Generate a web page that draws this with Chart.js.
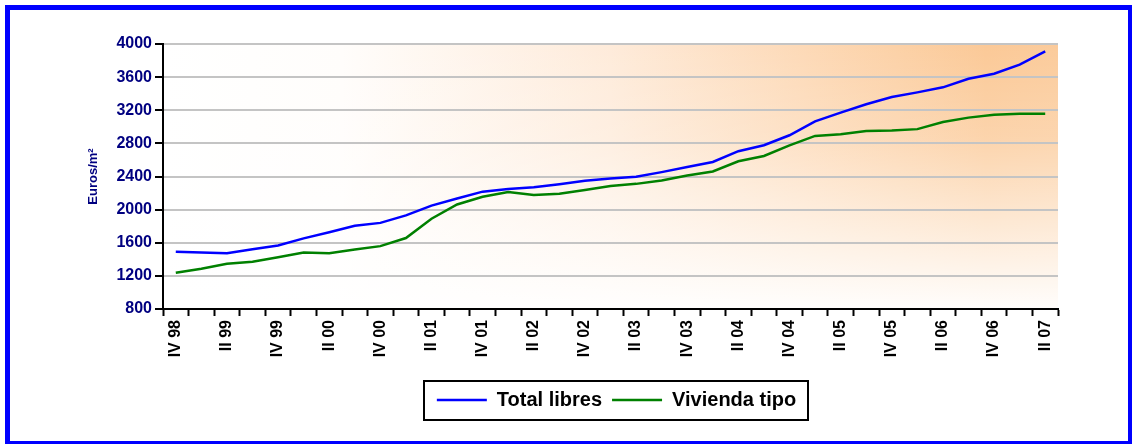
<!DOCTYPE html>
<html>
<head>
<meta charset="utf-8">
<script src="https://cdn.jsdelivr.net/npm/chart.js@4.4.0/dist/chart.umd.min.js"></script>
<style>
  html, body { margin: 0; padding: 0; background: #fff; overflow: hidden; }
  #wrap { position: relative; width: 1132px; height: 444px; }
  #frame {
    position: absolute; left: 5px; top: 5px; width: 1128px; height: 441px;
    box-sizing: border-box; border: 5px solid #0000ff; pointer-events: none;
  }
  canvas { position: absolute; left: 0; top: 0; }
</style>
</head>
<body>
<div id="wrap">
  <canvas id="chart" width="1132" height="444"></canvas>
  <div id="frame"></div>
</div>
<script>
// Quarters from IV 98 to II 07
const quarters = [
  'IV 98',
  'I 99', 'II 99', 'III 99', 'IV 99',
  'I 00', 'II 00', 'III 00', 'IV 00',
  'I 01', 'II 01', 'III 01', 'IV 01',
  'I 02', 'II 02', 'III 02', 'IV 02',
  'I 03', 'II 03', 'III 03', 'IV 03',
  'I 04', 'II 04', 'III 04', 'IV 04',
  'I 05', 'II 05', 'III 05', 'IV 05',
  'I 06', 'II 06', 'III 06', 'IV 06',
  'I 07', 'II 07'
];

// Euros/m2
const totalLibres = [
  1490, 1482, 1473, 1522, 1567, 1653, 1726, 1804, 1840, 1930, 2048, 2134,
  2217, 2250, 2270, 2306, 2348, 2376, 2397, 2453, 2514, 2575, 2706, 2777,
  2898, 3065, 3171, 3273, 3359, 3416, 3477, 3580, 3641, 3751, 3910
];
const viviendaTipo = [
  1237, 1286, 1347, 1371, 1424, 1482, 1473, 1518, 1559, 1657, 1890, 2062,
  2155, 2213, 2176, 2192, 2237, 2286, 2311, 2351, 2412, 2461, 2584, 2648,
  2775, 2890, 2911, 2948, 2956, 2972, 3058, 3111, 3147, 3159, 3159
];

const yMin = 800, yMax = 4000, yStep = 400;

const FONT = "'Liberation Sans', Arial, sans-serif";

// peach gradient behind the plot, strongest at top right
const plotBackground = {
  id: 'plotBackground',
  beforeDraw(chart) {
    const { ctx, chartArea: a } = chart;
    const w = a.right - a.left, h = a.bottom - a.top;
    ctx.save();
    let g = ctx.createLinearGradient(a.left, 0, a.right, 0);
    g.addColorStop(0, '#ffffff');
    g.addColorStop(0.2, '#fffdfb');
    g.addColorStop(0.5, '#feebda');
    g.addColorStop(0.72, '#fdd9b6');
    g.addColorStop(0.92, '#fbc997');
    g.addColorStop(1, '#fbcb9b');
    ctx.fillStyle = g;
    ctx.fillRect(a.left, a.top, w, h);
    g = ctx.createLinearGradient(0, a.top, 0, a.bottom);
    g.addColorStop(0, 'rgba(255,255,255,0)');
    g.addColorStop(0.35, 'rgba(255,255,255,0.2)');
    g.addColorStop(1, 'rgba(255,255,255,0.97)');
    ctx.fillStyle = g;
    ctx.fillRect(a.left, a.top, w, h);
    ctx.restore();
  }
};

// nudge the legend a little right and put a black frame round it
const legendFrame = {
  id: 'legendFrame',
  afterUpdate(chart) {
    const lg = chart.legend;
    if (!lg) return;
    lg.left += 6;
    lg.right += 6;
  },
  afterDraw(chart) {
    const lg = chart.legend;
    if (!lg || !lg.legendItems || !lg.legendItems.length) return;
    const pad = lg.options.labels.padding;
    const rowWidth = lg.lineWidths[0];
    // same centring the legend uses for its row
    const l = (lg.left + pad + lg.right - rowWidth) / 2;
    const r = l + rowWidth - pad;
    const cy = lg.top + lg.height / 2;
    const ctx = chart.ctx;
    ctx.save();
    ctx.strokeStyle = '#000';
    ctx.lineWidth = 2;
    ctx.strokeRect(Math.round(l - 13), Math.round(cy - 19), Math.round(r - l + 25), 39);
    ctx.restore();
  }
};

new Chart(document.getElementById('chart'), {
  type: 'line',
  data: {
    labels: quarters,
    datasets: [
      {
        label: 'Total libres',
        data: totalLibres,
        borderColor: '#0000ff',
        backgroundColor: '#0000ff',
        borderWidth: 2.5,
        pointRadius: 0,
        tension: 0
      },
      {
        label: 'Vivienda tipo',
        data: viviendaTipo,
        borderColor: '#008000',
        backgroundColor: '#008000',
        borderWidth: 2.5,
        pointRadius: 0,
        tension: 0
      }
    ]
  },
  options: {
    responsive: false,
    animation: false,
    devicePixelRatio: 1,
    layout: { padding: { left: 82, right: 74, top: 44, bottom: 24 } },
    plugins: {
      tooltip: { enabled: false },
      legend: {
        position: 'bottom',
        fullSize: false,
        labels: {
          usePointStyle: true,
          pointStyle: 'line',
          pointStyleWidth: 50,
          color: '#000',
          padding: 10,
          font: { family: FONT, size: 20, weight: 'bold' }
        }
      }
    },
    scales: {
      x: {
        offset: true,
        afterFit(scale) { scale.height = 71; },
        grid: {
          offset: true,
          drawOnChartArea: false,
          tickColor: '#000',
          tickLength: 7,
          tickWidth: 2
        },
        border: { color: '#000', width: 2 },
        ticks: {
          autoSkip: false,
          maxRotation: 90,
          minRotation: 90,
          padding: 4,
          color: '#000',
          font: { family: FONT, size: 16, weight: 'bold' },
          callback(value, index) {
            return index % 2 === 0 ? quarters[index] : '';
          }
        }
      },
      y: {
        min: yMin,
        max: yMax,
        afterFit(scale) { scale.width = 81; },
        grid: {
          color: '#c4c4c4',
          lineWidth: 2,
          tickColor: '#000',
          tickLength: 8,
          tickWidth: 2
        },
        border: { color: '#000', width: 2 },
        ticks: {
          stepSize: yStep,
          padding: 3,
          color: '#000080',
          font: { family: FONT, size: 16, weight: 'bold' },
          callback(value) { return String(value); }
        },
        title: {
          display: true,
          text: 'Euros/m²',
          color: '#000080',
          padding: { top: 4, bottom: 4 },
          font: { family: FONT, size: 13, weight: 'bold' }
        }
      }
    }
  },
  plugins: [plotBackground, legendFrame]
});
</script>
</body>
</html>
